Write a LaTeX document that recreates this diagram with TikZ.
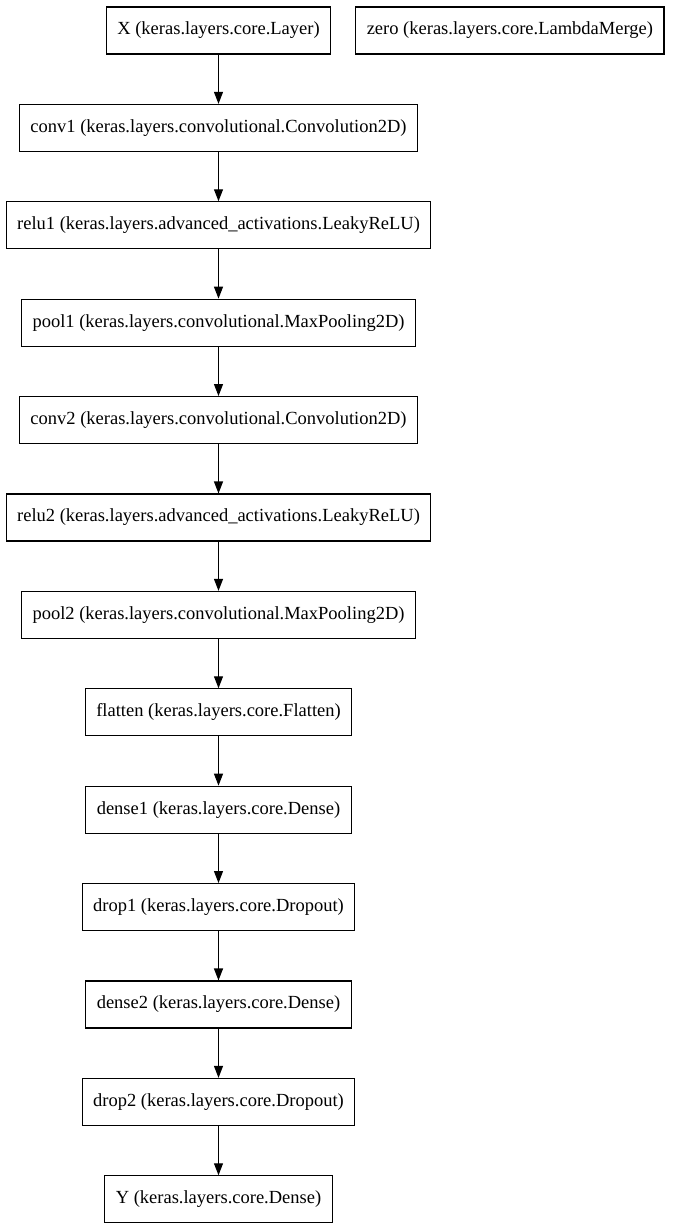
\documentclass[tikz,border=0pt]{standalone}
\usepackage{fontspec}
\setmainfont{Liberation Serif}
\usetikzlibrary{arrows.meta,positioning}

\begin{document}
\begin{tikzpicture}[x=1pt,y=1pt,
  layer/.style={draw,rectangle,line width=1.1pt,minimum height=47pt,inner xsep=11pt,font=\fontsize{18.5}{22}\selectfont},
  edge/.style={-{Triangle[length=12pt,width=9pt]},line width=1.1pt},
  node distance=49.3pt]
\useasboundingbox (0,0) rectangle (672,-1228);
\node[layer] (X) at (218.5,-30.5) {X (keras.layers.core.Layer)};
\node[layer,right=24pt of X] (zero) {zero (keras.layers.core.LambdaMerge)};
\node[layer,below=of X] (conv1) {conv1 (keras.layers.convolutional.Convolution2D)};
\node[layer,below=of conv1] (relu1) {relu1 (keras.layers.advanced\_activations.LeakyReLU)};
\node[layer,below=of relu1] (pool1) {pool1 (keras.layers.convolutional.MaxPooling2D)};
\node[layer,below=of pool1] (conv2) {conv2 (keras.layers.convolutional.Convolution2D)};
\node[layer,below=of conv2] (relu2) {relu2 (keras.layers.advanced\_activations.LeakyReLU)};
\node[layer,below=of relu2] (pool2) {pool2 (keras.layers.convolutional.MaxPooling2D)};
\node[layer,below=of pool2] (flatten) {flatten (keras.layers.core.Flatten)};
\node[layer,below=of flatten] (dense1) {dense1 (keras.layers.core.Dense)};
\node[layer,below=of dense1] (drop1) {drop1 (keras.layers.core.Dropout)};
\node[layer,below=of drop1] (dense2) {dense2 (keras.layers.core.Dense)};
\node[layer,below=of dense2] (drop2) {drop2 (keras.layers.core.Dropout)};
\node[layer,below=of drop2] (Y) {Y (keras.layers.core.Dense)};
\foreach \a/\b in {X/conv1,conv1/relu1,relu1/pool1,pool1/conv2,conv2/relu2,relu2/pool2,pool2/flatten,flatten/dense1,dense1/drop1,drop1/dense2,dense2/drop2,drop2/Y}
  \draw[edge] (\a) -- (\b);
\end{tikzpicture}
\end{document}
